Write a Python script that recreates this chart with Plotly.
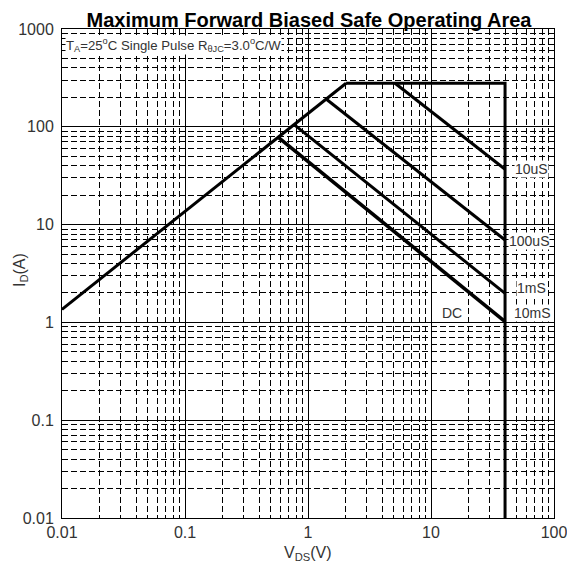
import math
import plotly.graph_objects as go

# data (V, A)
rds_v = [0.01, 2.04]
rds_i = [1.36, 279]
lim_v = [2.04, 40, 40]
lim_i = [279, 279, 0.01]
us10_v = [5.1, 40]
us10_i = [279, 36.8]
us100_v = [1.42, 40]
us100_i = [190, 6.96]
ms1_v = [0.78, 40]
ms1_i = [104, 1.98]
dc_v = [0.58, 40]
dc_i = [77, 1.02]

x_ticks = [0.01, 0.1, 1, 10, 100]
x_ticklabels = ["0.01", "0.1", "1", "10", "100"]
y_ticks = [0.01, 0.1, 1, 10, 100, 1000]
y_ticklabels = ["0.01", "0.1", "1", "10", "100", "1000"]

# curve labels: text, V position, I position
label_text = ["10uS", "100uS", "1mS", "10mS", "DC"]
label_v = [47.3, 42.3, 49.1, 46.5, 14.8]
label_i = [37.0, 6.8, 2.25, 1.25, 1.25]

FONT = "Liberation Sans, Arial"
TXT = "#333333"

fig = go.Figure()
for xs, ys, w in [(rds_v, rds_i, 3), (lim_v, lim_i, 3), (us10_v, us10_i, 3),
                  (us100_v, us100_i, 3), (ms1_v, ms1_i, 3), (dc_v, dc_i, 3.6)]:
    fig.add_trace(go.Scatter(x=xs, y=ys, mode="lines",
                             line=dict(color="black", width=w),
                             showlegend=False, hoverinfo="skip"))

for t, xv, yv in zip(label_text, label_v, label_i):
    fig.add_annotation(x=math.log10(xv), y=math.log10(yv), xref="x", yref="y",
                       text=t, showarrow=False,
                       font=dict(family=FONT, size=14, color=TXT),
                       bgcolor="white", xanchor="left" if t != "DC" else "center",
                       borderpad=0)
fig.add_annotation(x=0.006, y=0.987, xref="paper", yref="paper",
                   text="T<sub>A</sub>=25<sup>o</sup>C Single Pulse R<sub>θJC</sub>=3.0<sup>o</sup>C/W",
                   showarrow=False, xanchor="left", yanchor="top",
                   font=dict(family=FONT, size=13.2, color=TXT),
                   bgcolor="white", borderpad=0)
# axis titles
fig.add_annotation(x=0.5, y=-0.0716, xref="paper", yref="paper", yanchor="middle",
                   text="V<sub>DS</sub>(V)", showarrow=False,
                   font=dict(family=FONT, size=16, color=TXT))
fig.add_annotation(x=-0.0854, y=0.507, xref="paper", yref="paper", xanchor="center",
                   yanchor="middle",
                   text="I<sub>D</sub>(A)", showarrow=False, textangle=-90,
                   font=dict(family=FONT, size=16, color=TXT))

axis_common = dict(
    type="log", showline=True, linecolor="black", linewidth=1, mirror=True,
    showgrid=True, gridcolor="black", gridwidth=1,
    ticks="", zeroline=False, automargin=False,
    tickfont=dict(family=FONT, size=16, color=TXT),
    minor=dict(dtick="D1", showgrid=True, gridcolor="black", gridwidth=1,
               griddash="6px,3px", ticks=""),
)
fig.update_xaxes(**axis_common, range=[-2, 2], tickvals=x_ticks, ticktext=x_ticklabels)
fig.update_yaxes(**axis_common, range=[-2, 3], tickvals=y_ticks, ticktext=y_ticklabels,
                 ticklabelstandoff=4)

# page body adds an 8px offset, margins are compensated for it
fig.update_layout(
    width=575, height=569,
    margin=dict(l=54, r=29, t=21, b=59),
    paper_bgcolor="white", plot_bgcolor="white",
    title=dict(text="<b>Maximum Forward Biased Safe Operating Area</b>",
               x=0.5235, xanchor="center", y=0.9789, yanchor="middle",
               font=dict(family=FONT, size=20, color="black")),
)
fig.write_html("out.html")
